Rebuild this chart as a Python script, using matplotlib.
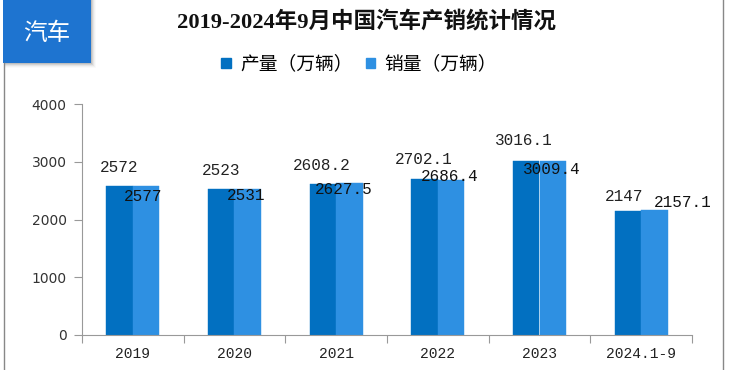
import matplotlib.pyplot as plt
import matplotlib.patches as mpatches
from matplotlib.lines import Line2D
import numpy as np

# 数据
years = ['2019', '2020', '2021', '2022', '2023', '2024.1-9']
production = [2572, 2523, 2608.2, 2702.1, 3016.1, 2147]
sales = [2577, 2531, 2627.5, 2686.4, 3009.4, 2157.1]
prod_text = ['2572', '2523', '2608.2', '2702.1', '3016.1', '2147']
sales_text = ['2577', '2531', '2627.5', '2686.4', '3009.4', '2157.1']

# 标签偏移（像素）
prod_off = [(0, 19), (0, 19), (-1, 19), (-1, 19), (-2, 20), (-4, 15)]
sales_off = [(-3, -10), (-2, -7), (-6, -6), (-1, 3), (-1, -8), (28, 8)]

dark = '#0270C1'
light = '#2E90E2'
cjk = ['Noto Sans CJK SC', 'DejaVu Sans']
mono = ['Liberation Mono', 'Noto Sans CJK SC']

fig = plt.figure(figsize=(7.29, 3.70), dpi=100)
ax = fig.add_axes([82/729, 1 - 335/370, 610/729, 231/370])

x = np.arange(len(years))
w = 0.26
ax.bar(x - w/2, production, w, color=dark, edgecolor=dark, linewidth=0.3, zorder=2)
ax.bar(x + w/2, sales, w, color=light, edgecolor=light, linewidth=0.3, zorder=2)

for i in range(len(years)):
    ax.annotate(prod_text[i], (x[i] - w/2, production[i]), xytext=prod_off[i],
                textcoords='offset pixels', ha='center', va='center',
                fontsize=11.5, family=mono, color='#222222', zorder=3)
    ax.annotate(sales_text[i], (x[i] + w/2, sales[i]), xytext=sales_off[i],
                textcoords='offset pixels', ha='center', va='center',
                fontsize=11.5, family=mono, color='#111111', zorder=3)

ax.set_xlim(-0.5, len(years) - 0.5)
ax.set_ylim(0, 4000)
ax.set_yticks([0, 1000, 2000, 3000, 4000])
ax.set_xticks(np.arange(len(years) + 1) - 0.5)
ax.set_xticklabels([])
ax.set_xticks(x, minor=True)
ax.set_xticklabels(years, minor=True, family=mono, fontsize=10.5, color='#222222')
ax.tick_params(axis='x', which='major', direction='out', length=6, color='#999999')
ax.tick_params(axis='x', which='minor', length=0, pad=9)
ax.tick_params(axis='y', direction='out', length=6, color='#999999', pad=5,
               labelsize=10, labelcolor='#333333')
for s in ['top', 'right']:
    ax.spines[s].set_visible(False)
for s in ['left', 'bottom']:
    ax.spines[s].set_color('#999999')

# 标题
fig.text(366/729, 1 - 22/370, '2019-2024年9月中国汽车产销统计情况', ha='center', va='center',
         fontsize=16.2, fontweight='bold', family=['Liberation Serif', 'Noto Sans CJK SC'],
         color='#111111')

# 图例
handles = [mpatches.Patch(color=dark), mpatches.Patch(color=light)]
fig.legend(handles, ['产量（万辆）', '销量（万辆）'], loc='center', bbox_to_anchor=(359/729, 1 - 64/370),
           ncol=2, frameon=False, prop={'family': cjk, 'size': 13.5},
           handlelength=0.5, handleheight=0.5, handletextpad=0.5, columnspacing=0.7)

# 外框线
fig.add_artist(Line2D([3.5/729, 3.5/729], [0, 1 - 63/370], color='#888888', lw=1))
fig.add_artist(Line2D([723/729, 723/729], [0, 1], color='#888888', lw=1))

# 左上角标签
for k, a in zip(range(1, 6), [0.10, 0.07, 0.05, 0.03, 0.02]):
    fig.add_artist(mpatches.Rectangle((4/729, 1 - (63 + k)/370), (87 + k)/729, (63 + k)/370,
                                      facecolor='#000000', alpha=a, edgecolor='none'))
fig.add_artist(mpatches.Rectangle((3/729, 1 - 63/370), 88/729, 63/370,
                                  facecolor='#1E74D0', edgecolor='none'))
fig.text(47/729, 1 - 33/370, '汽车', ha='center', va='center', fontsize=17,
         family=cjk, color='white')

fig.savefig('out.png', dpi=100)
